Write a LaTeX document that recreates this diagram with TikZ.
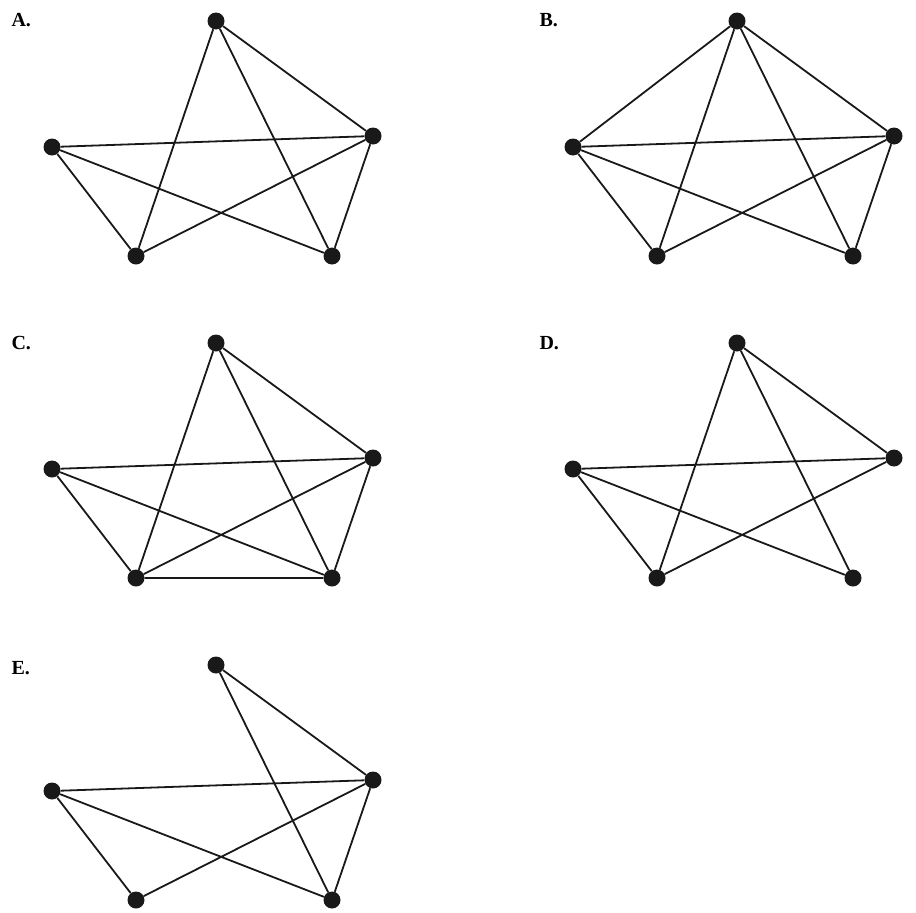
\documentclass[tikz,border=0pt]{standalone}
\usepackage{fontspec}
\setmainfont{Liberation Serif}
\begin{document}
\begin{tikzpicture}[x=1pt,y=-1pt,
  dot/.style={circle,fill=black!90,inner sep=0pt,minimum size=17pt},
  edge/.style={line width=1.8pt,black!90},
  lab/.style={font=\bfseries\fontsize{20}{22}\selectfont,anchor=west}]
\useasboundingbox (0,0) rectangle (916,913);
\newcommand{\fivenodes}[3]{%
  \node[dot] (#1t) at (216+#2,21+#3) {};
  \node[dot] (#1r) at (373+#2,136+#3) {};
  \node[dot] (#1l) at (52+#2,147+#3) {};
  \node[dot] (#1a) at (136+#2,256+#3) {};
  \node[dot] (#1b) at (332+#2,256+#3) {};}
\fivenodes{A}{0}{0}
\fivenodes{B}{521}{0}
\fivenodes{C}{0}{322}
\fivenodes{D}{521}{322}
\fivenodes{E}{0}{644}
\node[lab] (LA) at (8,20) {A.};
\node[lab] (LB) at (536,20) {B.};
\node[lab] (LC) at (8,343) {C.};
\node[lab] (LD) at (536,343) {D.};
\node[lab] (LE) at (8,668) {E.};
\begin{scope}[on background layer/.try]
\draw[edge] (At)--(Aa) (At)--(Ar) (At)--(Ab) (Al)--(Ar) (Al)--(Aa) (Al)--(Ab) (Ar)--(Aa) (Ar)--(Ab);
\draw[edge] (Bt)--(Bl) (Bt)--(Br) (Bt)--(Ba) (Bt)--(Bb) (Bl)--(Br) (Bl)--(Ba) (Bl)--(Bb) (Br)--(Ba) (Br)--(Bb);
\draw[edge] (Ct)--(Ca) (Ct)--(Cb) (Ct)--(Cr) (Cl)--(Cr) (Cl)--(Ca) (Cl)--(Cb) (Cr)--(Ca) (Cr)--(Cb) (Ca)--(Cb);
\draw[edge] (Dt)--(Da) (Dt)--(Db) (Dt)--(Dr) (Dl)--(Dr) (Dl)--(Da) (Dl)--(Db) (Dr)--(Da);
\draw[edge] (Et)--(Er) (Et)--(Eb) (El)--(Er) (El)--(Ea) (El)--(Eb) (Er)--(Ea) (Er)--(Eb);
\end{scope}
\end{tikzpicture}
\end{document}
